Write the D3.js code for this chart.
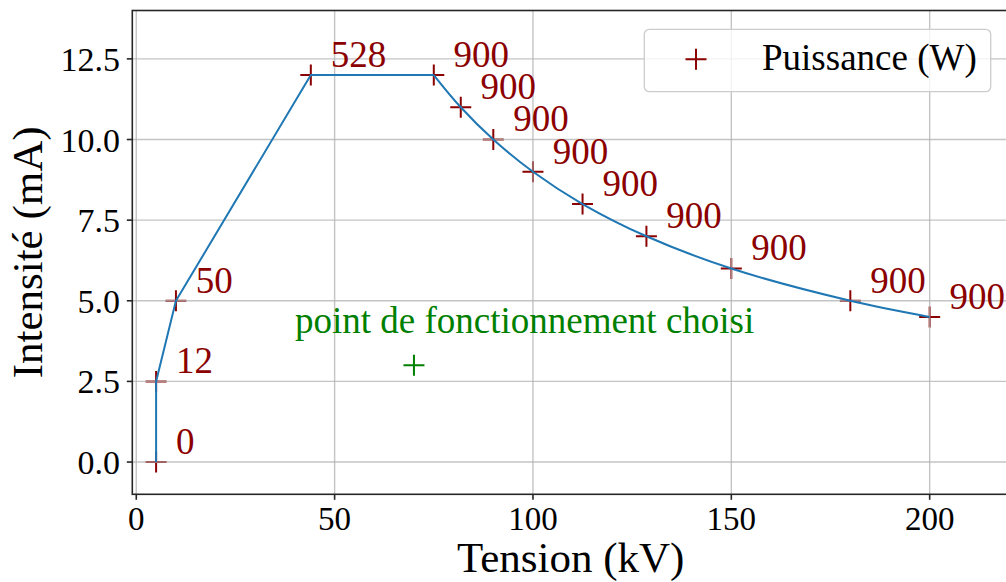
<!DOCTYPE html>
<html>
<head>
<meta charset="utf-8">
<script src="https://cdn.jsdelivr.net/npm/d3@7"></script>
<style>
  body { margin: 0; background: #fff; }
  svg { display: block; }
  text { font-family: "Liberation Serif", "Times New Roman", serif; }
</style>
</head>
<body>
<svg id="chart" width="1006" height="582"></svg>
<script>
// Operating curve of the tube: voltage (kV), current (mA), power (W)
const tension   = [5, 5, 10, 44, 75, 81.8, 90, 100, 112.5, 128.6, 150, 180, 200];
const intensite = [0, 2.5, 5, 12, 12, 11, 10, 9, 8, 7, 6, 5, 4.5];
const puissance = [0, 12, 50, 528, 900, 900, 900, 900, 900, 900, 900, 900, 900];

// Chosen operating point
const choisiTension = [70];
const choisiIntensite = [3];
const choisiLabel = "point de fonctionnement choisi";
const choisiLabelPos = [40, 4];

const xTicks = [0, 50, 100, 150, 200];
const yTicks = [0, 2.5, 5, 7.5, 10, 12.5];
const legendLabel = "Puissance (W)";

const plot = { left: 132.3, right: 1009, top: 10.5, bottom: 494.3 };

const x = d3.scaleLinear().domain([-1, 220]).range([plot.left, plot.right]);
const y = d3.scaleLinear().domain([-1, 14]).range([plot.bottom, plot.top]);

const svg = d3.select("#chart");
const red = "#8b0000", green = "#008000", blue = "#1f77b4";

svg.append("defs").append("clipPath").attr("id", "plotClip")
  .append("rect").attr("x", plot.left).attr("y", plot.top)
  .attr("width", plot.right - plot.left).attr("height", plot.bottom - plot.top);

const area = svg.append("g").attr("clip-path", "url(#plotClip)");

const plus = (s) => `M${-s},0H${s}M0,${-s}V${s}`;

// Scatter markers (drawn beneath the grid)
const pts = tension.map((t, i) => ({ t, i: intensite[i], p: puissance[i] }));
area.append("g").selectAll("path").data(pts).join("path")
  .attr("transform", d => `translate(${x(d.t)},${y(d.i)})`)
  .attr("d", plus(10.5))
  .attr("stroke", red).attr("stroke-width", 2).attr("fill", "none");

area.append("g").selectAll("path").data(choisiTension).join("path")
  .attr("transform", (d, k) => `translate(${x(d)},${y(choisiIntensite[k])})`)
  .attr("d", plus(10.5))
  .attr("stroke", green).attr("stroke-width", 2).attr("fill", "none");

// Grid
const grid = area.append("g").attr("stroke", "#b0b0b0").attr("stroke-opacity", 0.75).attr("stroke-width", 1.4);
grid.selectAll(".gx").data(xTicks).join("line")
  .attr("x1", d => x(d)).attr("x2", d => x(d)).attr("y1", plot.top).attr("y2", plot.bottom);
grid.selectAll(".gy").data(yTicks).join("line")
  .attr("y1", d => y(d)).attr("y2", d => y(d)).attr("x1", plot.left).attr("x2", plot.right);

// Curve: straight segments up to the power limit, then the constant-power branch
const lin = d3.line().x(d => x(d.t)).y(d => y(d.i));
const smooth = d3.line().x(d => x(d.t)).y(d => y(d.i)).curve(d3.curveCatmullRom.alpha(0.5));
area.append("path").datum(pts.slice(0, 5)).attr("d", lin)
  .attr("fill", "none").attr("stroke", blue).attr("stroke-width", 2).attr("stroke-linejoin", "round");
area.append("path").datum(pts.slice(4)).attr("d", smooth)
  .attr("fill", "none").attr("stroke", blue).attr("stroke-width", 2).attr("stroke-linejoin", "round");

// Power annotations
svg.append("g").selectAll("text").data(pts).join("text")
  .attr("x", d => x(d.t + 5)).attr("y", d => y(d.i + 0.25))
  .attr("fill", red).attr("font-size", 37)
  .text(d => d.p);

svg.append("text")
  .attr("x", x(choisiLabelPos[0])).attr("y", y(choisiLabelPos[1]))
  .attr("fill", green).attr("font-size", 37)
  .text(choisiLabel);

// Spines
svg.append("rect").attr("x", plot.left).attr("y", plot.top)
  .attr("width", plot.right - plot.left).attr("height", plot.bottom - plot.top)
  .attr("stroke", "#262626").attr("stroke-width", 1.6).attr("fill", "none");

// Axes
const xAxis = svg.append("g");
xAxis.selectAll("line").data(xTicks).join("line")
  .attr("x1", d => x(d)).attr("x2", d => x(d)).attr("y1", plot.bottom).attr("y2", plot.bottom + 5.5)
  .attr("stroke", "#262626").attr("stroke-width", 1.6);
xAxis.selectAll("text").data(xTicks).join("text")
  .attr("x", d => x(d)).attr("y", 530).attr("text-anchor", "middle")
  .attr("font-size", 33).attr("fill", "#000").text(d => d3.format("d")(d));

const yAxis = svg.append("g");
yAxis.selectAll("line").data(yTicks).join("line")
  .attr("y1", d => y(d)).attr("y2", d => y(d)).attr("x1", plot.left - 5.5).attr("x2", plot.left)
  .attr("stroke", "#262626").attr("stroke-width", 1.6);
yAxis.selectAll("text").data(yTicks).join("text")
  .attr("x", 120).attr("y", d => y(d) + 12).attr("text-anchor", "end")
  .attr("font-size", 34).attr("fill", "#000").text(d => d3.format(".1f")(d));

svg.append("text")
  .attr("x", (plot.left + plot.right) / 2).attr("y", 572)
  .attr("text-anchor", "middle").attr("font-size", 43).text("Tension (kV)");
svg.append("text")
  .attr("transform", `translate(42,${(plot.top + plot.bottom) / 2}) rotate(-90)`)
  .attr("text-anchor", "middle").attr("font-size", 43).text("Intensité (mA)");

// Legend
const lg = svg.append("g");
lg.append("rect").attr("x", 644.3).attr("y", 29.3).attr("width", 346.4).attr("height", 62.4)
  .attr("rx", 5).attr("fill", "#fff").attr("fill-opacity", 0.8)
  .attr("stroke", "#cccccc").attr("stroke-width", 1.3);
lg.append("path").attr("transform", "translate(696,59.3)").attr("d", plus(10.5))
  .attr("stroke", red).attr("stroke-width", 2).attr("fill", "none");
lg.append("text").attr("x", 762).attr("y", 70).attr("font-size", 37).text(legendLabel);
</script>
</body>
</html>
